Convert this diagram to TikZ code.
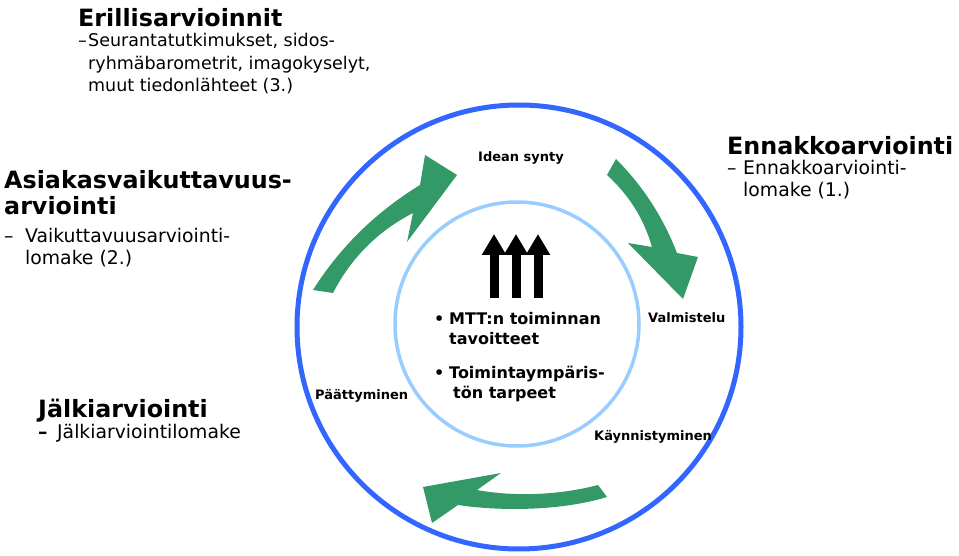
\documentclass[tikz,border=0pt]{standalone}
\usepackage{fontspec}
\setmainfont{DejaVu Sans}
\usetikzlibrary{arrows.meta}

\definecolor{ringblue}{HTML}{3366FF}
\definecolor{coreblue}{HTML}{99CCFF}
\definecolor{cyclegreen}{HTML}{339966}

\tikzset{
  heading/.style={font=\fontsize{23.8}{26}\selectfont\bfseries, inner sep=0pt, anchor=base west, align=left},
  bodytext/.style={font=\fontsize{18.8}{21.5}\selectfont, inner sep=0pt, anchor=base west, align=left},
  smalltext/.style={bodytext, font=\fontsize{17.5}{22.5}\selectfont},
  phase/.style={font=\fontsize{13}{15}\selectfont\bfseries, inner sep=0pt, anchor=base west},
  goal/.style={font=\fontsize{16}{20}\selectfont\bfseries, inner sep=0pt, anchor=base west, align=left},
  cyclearrow/.style={fill=cyclegreen},
  uparrow/.style={line width=9pt, -{Triangle[length=21pt, width=23pt]}}
}

\begin{document}
\begin{tikzpicture}[x=1pt, y=-1pt]
  \useasboundingbox (0,0) rectangle (959,556);

  % rings
  \node (ring)[shape=circle, draw=ringblue, line width=5pt, minimum size=444pt, inner sep=0pt]
    at (519,327) {};
  \node (core)[shape=circle, draw=coreblue, line width=3.5pt, minimum size=244pt, inner sep=0pt]
    at (517,324) {};

  % phases of the cycle
  \node (idea)[phase] at (478,162) {Idean synty};
  \node (prep)[phase] at (648,323) {Valmistelu};
  \node (start)[phase] at (594,440) {Käynnistyminen};
  \node (end)[phase] at (315,399) {Päättyminen};

  % green cycle arrows
  \fill[cyclearrow] (313,290) .. controls (340,247) and (376,212) .. (420,185)
    -- (425,155) -- (457,175) -- (407,242) -- (413,213)
    .. controls (378,231) and (351,258) .. (333,293) -- cycle;
  \fill[cyclearrow] (616,159) .. controls (643,186) and (663,217) .. (677,253)
    -- (698,257) -- (683,299) -- (628,243) -- (652,247)
    .. controls (644,219) and (629,195) .. (607,175) -- cycle;
  \fill[cyclearrow] (598,485) .. controls (560,495) and (515,497) .. (477,490)
    -- (501,473) -- (423,487) -- (432,523) -- (458,505)
    .. controls (505,512) and (565,510) .. (607,497) -- cycle;

  % goals in the core (multi-line nodes sit on their last line)
  \foreach \x in {494,516,538}
    \draw[uparrow] (\x,298) -- (\x,234);
  \node (goal1b)[goal] at (434,324) {•};
  \node (goal1)[goal] at (449,344) {MTT:n toiminnan\\tavoitteet};
  \node (goal2b)[goal] at (434,378) {•};
  \node (goal2)[goal] at (449,398) {Toimintaympäris-\\\hspace*{4pt}tön tarpeet};

  % evaluations
  \node (sep)[heading] at (78,27) {Erillisarvioinnit};
  \node (sepd)[smalltext] at (78,47) {–};
  \node (sept)[smalltext] at (88,92) {Seurantatutkimukset, sidos-\\ryhmäbarometrit, imagokyselyt,\\muut tiedonlähteet (3.)};

  \node (pre)[heading] at (727,155) {Ennakkoarviointi};
  \node (pred)[bodytext] at (727,175) {–};
  \node (pret)[bodytext] at (743,196.5) {Ennakkoarviointi-\\lomake (1.)};

  \node (cust)[heading] at (4,215) {Asiakasvaikuttavuus-\\arviointi};
  \node (custd)[bodytext] at (4,243) {–};
  \node (custt)[bodytext] at (25,264.5) {Vaikuttavuusarviointi-\\lomake (2.)};

  \node (post)[heading] at (38,417) {Jälkiarviointi};
  \node (postd)[bodytext, font=\fontsize{18.8}{21.5}\selectfont\bfseries] at (38,438) {–};
  \node (postt)[bodytext] at (57,438) {Jälkiarviointilomake};
\end{tikzpicture}
\end{document}
